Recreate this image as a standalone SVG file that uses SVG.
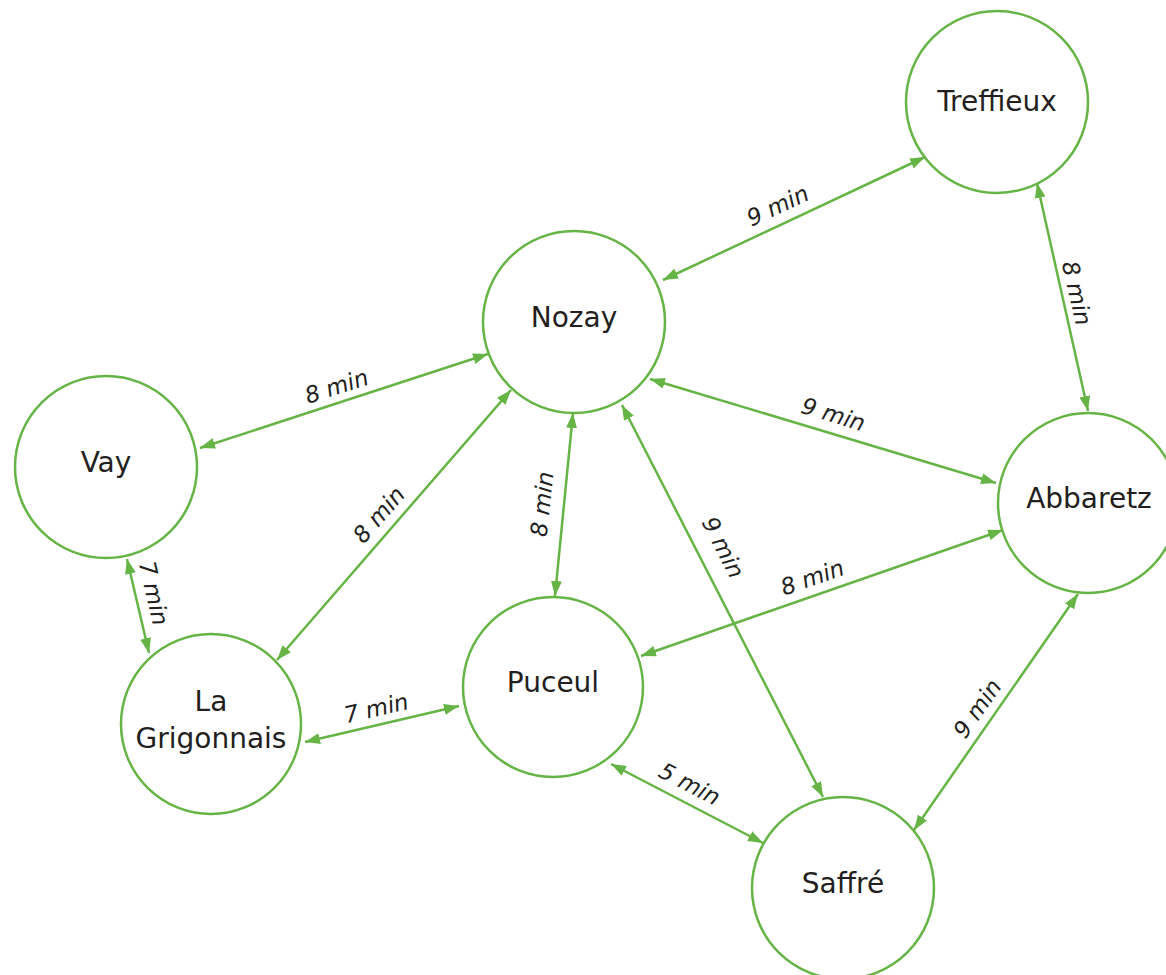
<svg xmlns="http://www.w3.org/2000/svg" width="1166" height="975" viewBox="0 0 1166 975">
<defs>
<marker id="ah" viewBox="0 0 15 11" refX="15" refY="5.5" markerWidth="15" markerHeight="11" markerUnits="userSpaceOnUse" orient="auto-start-reverse">
<path d="M0,0 L15,5.5 L0,11 z" fill="#66b446"/>
</marker>
<style>
.node circle{fill:#fff;stroke:#66b446;stroke-width:2.5}
.node text{font-family:"DejaVu Sans","Liberation Sans",sans-serif;font-size:28px;fill:#231f20;text-anchor:middle}
.edge line{stroke:#66b446;stroke-width:2.5;marker-start:url(#ah);marker-end:url(#ah)}
.lbl{font-family:"DejaVu Sans","Liberation Sans",sans-serif;font-size:23px;fill:#231f20;text-anchor:middle;font-style:italic}
</style>
</defs>
<rect width="1166" height="975" fill="#fff"/>
<g id="connectors" class="edge">
<line x1="663" y1="280" x2="925" y2="157"/>
<line x1="1037" y1="183" x2="1088" y2="411"/>
<line x1="650" y1="379" x2="996" y2="483"/>
<line x1="488" y1="354" x2="200" y2="448"/>
<line x1="511" y1="390" x2="277" y2="660"/>
<line x1="573" y1="413" x2="555" y2="596"/>
<line x1="622" y1="405" x2="823" y2="797"/>
<line x1="1003" y1="530" x2="641" y2="656"/>
<line x1="1078" y1="594" x2="914" y2="830"/>
<line x1="127" y1="559" x2="149" y2="653"/>
<line x1="305" y1="742" x2="459" y2="706"/>
<line x1="611" y1="764" x2="763" y2="843"/>
</g>
<g id="labels">
<text class="lbl" transform="translate(781,213) rotate(-25)">9 min</text>
<text class="lbl" transform="translate(1069,295) rotate(77)">8 min</text>
<text class="lbl" transform="translate(831,422) rotate(17)">9 min</text>
<text class="lbl" transform="translate(339,394) rotate(-18)">8 min</text>
<text class="lbl" transform="translate(385,520) rotate(-49)">8 min</text>
<text class="lbl" transform="translate(550,505) rotate(-84)">8 min</text>
<text class="lbl" transform="translate(716,551) rotate(63)">9 min</text>
<text class="lbl" transform="translate(815,585) rotate(-19)">8 min</text>
<text class="lbl" transform="translate(984,713) rotate(-55)">9 min</text>
<text class="lbl" transform="translate(146,595) rotate(77)">7 min</text>
<text class="lbl" transform="translate(378,716) rotate(-13)">7 min</text>
<text class="lbl" transform="translate(686,791) rotate(27.5)">5 min</text>
</g>
<g id="node-treffieux" class="node"><circle cx="997" cy="102" r="91"/><text x="997" y="111">Treffieux</text></g>
<g id="node-nozay" class="node"><circle cx="574" cy="322" r="91"/><text x="574" y="327">Nozay</text></g>
<g id="node-vay" class="node"><circle cx="106" cy="467" r="91"/><text x="106" y="472">Vay</text></g>
<g id="node-abbaretz" class="node"><circle cx="1088" cy="503" r="90"/><text x="1089" y="508">Abbaretz</text></g>
<g id="node-puceul" class="node"><circle cx="553" cy="687" r="90"/><text x="553" y="692">Puceul</text></g>
<g id="node-lagrigonnais" class="node"><circle cx="211" cy="724" r="90"/><text x="211" y="711">La</text><text x="211" y="748">Grigonnais</text></g>
<g id="node-saffre" class="node"><circle cx="843" cy="888" r="91"/><text x="843" y="893">Saffré</text></g>
</svg>
